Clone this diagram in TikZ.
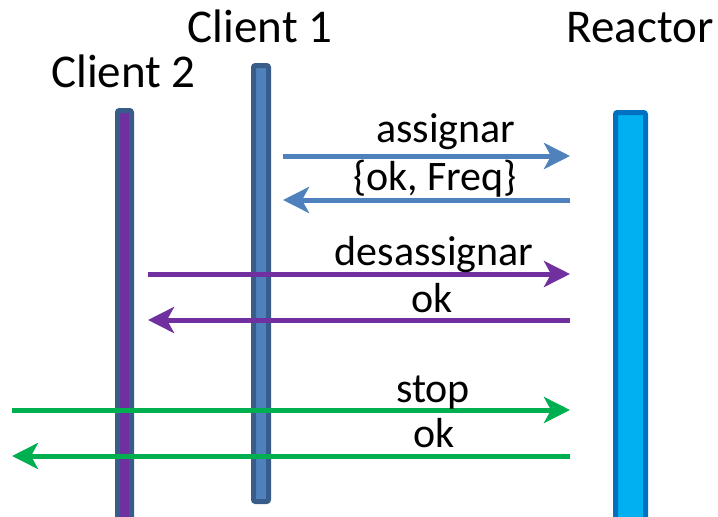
\documentclass[tikz,border=0pt]{standalone}
\usepackage{fontspec}
\setmainfont{Carlito}
\usetikzlibrary{arrows.meta}
\definecolor{cblue}{HTML}{4F81BD}
\definecolor{cborder}{HTML}{385D8A}
\definecolor{cpurple}{HTML}{7030A0}
\definecolor{cgreen}{HTML}{00B050}
\definecolor{rfill}{HTML}{00B0F0}
\definecolor{rborder}{HTML}{0070C0}
\tikzset{
  head/.style={anchor=base, inner sep=0pt, font=\fontsize{47}{50}\selectfont},
  lbl/.style={anchor=base, inner sep=0pt, font=\fontsize{42}{46}\selectfont},
  lifeline/.style={line width=5pt, rounded corners=2pt},
  msg/.style={line width=5pt, -{Stealth[length=26pt,width=26pt,inset=7pt]}},
}
\begin{document}
\begin{tikzpicture}[x=1pt,y=-1pt]
\useasboundingbox (0,0) rectangle (718,517);
% lifelines
\draw[lifeline, draw=cborder, fill=cpurple] (117.5,110.5) rectangle (131.5,540);
\draw[lifeline, draw=cborder, fill=cblue] (253.5,65.5) rectangle (268.5,501.5);
\draw[lifeline, draw=rborder, fill=rfill] (615.5,112.5) rectangle (645.5,540);
% headers
\node[head] (c1) at (260,42) {Client 1};
\node[head] (c2) at (123.5,87) {Client 2};
\node[head] (re) at (640,42) {Reactor};
% anchor coordinates
\coordinate (a1s) at (283,156);  \coordinate (a1e) at (570,156);
\coordinate (a2s) at (570,200);  \coordinate (a2e) at (283,200);
\coordinate (b1s) at (148,274);  \coordinate (b1e) at (570,274);
\coordinate (b2s) at (570,320);  \coordinate (b2e) at (148,320);
\coordinate (g1s) at (12,410);   \coordinate (g1e) at (570,410);
\coordinate (g2s) at (570,456);  \coordinate (g2e) at (12,456);
% messages
\draw[msg, cblue] (a1s) -- (a1e);
\draw[msg, cblue] (a2s) -- (a2e);
\draw[msg, cpurple] (b1s) -- (b1e);
\draw[msg, cpurple] (b2s) -- (b2e);
\draw[msg, cgreen] (g1s) -- (g1e);
\draw[msg, cgreen] (g2s) -- (g2e);
% labels
\node[lbl] (l1) at (446,142) {assignar};
\node[lbl] (l2) at (435,190) {\{ok, Freq\}};
\node[lbl] (l3) at (434,265) {desassignar};
\node[lbl] (l4) at (432,312) {ok};
\node[lbl] (l5) at (433,402) {stop};
\node[lbl] (l6) at (434,447) {ok};
\end{tikzpicture}
\end{document}
